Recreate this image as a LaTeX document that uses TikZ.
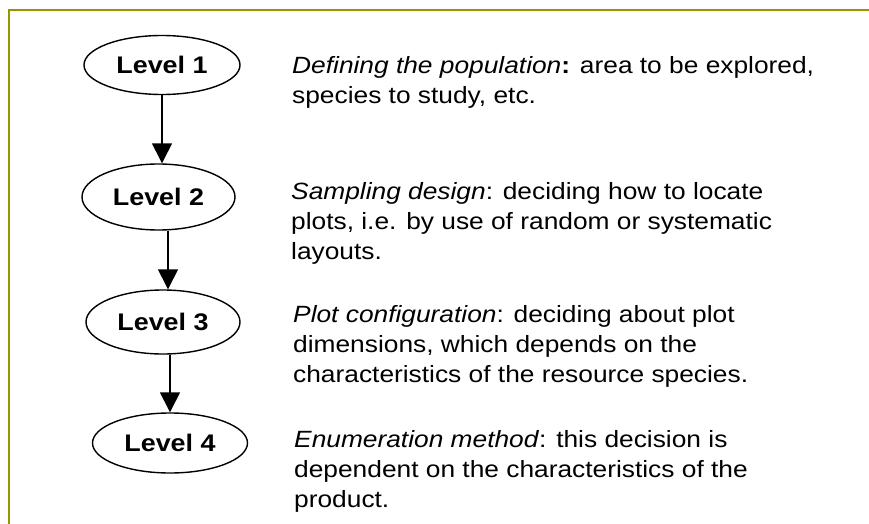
\documentclass[tikz,border=0pt]{standalone}
\usepackage{fontspec}
\setmainfont{Liberation Sans}
\newfontfamily\widesans[FakeStretch=1.12]{Liberation Sans}
\usetikzlibrary{arrows.meta,shapes.geometric}
\definecolor{frameolive}{RGB}{150,150,0}
\tikzset{
  level/.style={ellipse, draw, line width=1.4pt, inner sep=0pt, font=\widesans\fontsize{24}{28}\selectfont\bfseries},
  desc/.style={anchor=north west, inner sep=0pt, align=left, font=\widesans\fontsize{23.5}{30}\selectfont},
  arr/.style={line width=1.4pt, -{Triangle[width=20pt,length=20pt]}},
  frameline/.style={draw=frameolive, line width=2pt}
}
\begin{document}
\begin{tikzpicture}[x=1pt,y=-1pt]
\useasboundingbox (0,0) rectangle (869,524);
\draw[frameline] (9,524) -- (9,10) -- (869,10);
% level ellipses
\node[level, minimum width=156pt, minimum height=59pt] (l1) at (162,65) {Level 1};
\node[level, minimum width=153pt, minimum height=66pt] (l2) at (158.5,197) {Level 2};
\node[level, minimum width=154pt, minimum height=64pt] (l3) at (163,322) {Level 3};
\node[level, minimum width=155pt, minimum height=60pt] (l4) at (170,443) {Level 4};
% arrow positions
\coordinate (a12) at (162,0);
\coordinate (a23) at (168,0);
\coordinate (a34) at (170,0);
\draw[arr] (l1.south -| a12) -- (a12 |- l2.north);
\draw[arr] (l2.south -| a23) -- (a23 |- l3.north);
\draw[arr] (l3.south -| a34) -- (a34 |- l4.north);
% descriptions
\node[desc] (t1) at (292,56) {\textit{Defining the population}\textbf{:} area to be explored,\\species to study, etc.};
\node[desc] (t2) at (291,182) {\textit{Sampling design}: deciding how to locate\\plots, i.e. by use of random or systematic\\layouts.};
\node[desc] (t3) at (293,305) {\textit{Plot configuration}: deciding about plot\\dimensions, which depends on the\\characteristics of the resource species.};
\node[desc] (t4) at (294,430) {\textit{Enumeration method}: this decision is\\dependent on the characteristics of the\\product.};
\end{tikzpicture}
\end{document}
